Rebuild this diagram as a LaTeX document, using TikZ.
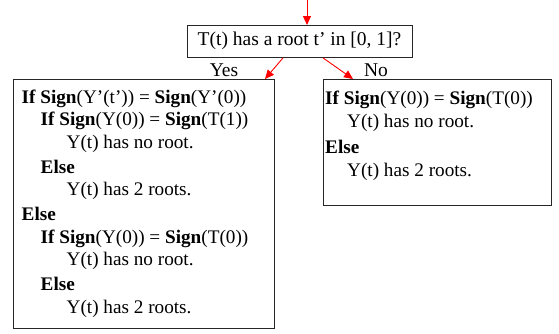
\documentclass[tikz,border=0pt]{standalone}
\usepackage{fontspec}
\setmainfont{Liberation Serif}
\usetikzlibrary{arrows.meta}
\begin{document}
\begin{tikzpicture}[x=1pt,y=-1pt,
  frame/.style={draw=black!85, line width=0.9pt, inner sep=0pt, anchor=north west},
  body/.style={anchor=north west, align=left, inner sep=0pt,
    font=\fontsize{19.2}{22.5}\selectfont},
  tag/.style={font=\fontsize{19.5}{23}\selectfont, inner sep=0pt},
  flow/.style={draw=red, line width=0.9pt, -{Triangle[length=9pt,width=8pt]}}]
\useasboundingbox (0,0) rectangle (559,333);
\fill[white] (0,0) rectangle (559,333);

% question box
\node[frame, minimum width=225pt, minimum height=32pt] (q) at (187,25) {};
\node[tag] (qtext) at (299.5,41) {T(t) has a root t’ in [0, 1]?};
\coordinate (top) at (307,0);
\draw[flow] (top) -- (top |- q.north);

% answer boxes
\node[frame, minimum width=261pt, minimum height=249pt] (yesbox) at (13,79) {};
\node[frame, minimum width=228pt, minimum height=126pt] (nobox) at (323,79) {};

\node[body] (yestext) at (21.5,89.5) {%
\textbf{If Sign}(Y’(t’)) = \textbf{Sign}(Y’(0))\\
\hspace*{19pt}\textbf{If Sign}(Y(0)) = \textbf{Sign}(T(1))\\
\hspace*{45pt}Y(t) has no root.\\[2.5pt]
\hspace*{19pt}\textbf{Else}\\
\hspace*{45pt}Y(t) has 2 roots.\\[2.5pt]
\textbf{Else}\\
\hspace*{19pt}\textbf{If Sign}(Y(0)) = \textbf{Sign}(T(0))\\
\hspace*{45pt}Y(t) has no root.\\[2.5pt]
\hspace*{19pt}\textbf{Else}\\
\hspace*{45pt}Y(t) has 2 roots.};

\node[body] (notext) at (325,91) {%
\textbf{If Sign}(Y(0)) = \textbf{Sign}(T(0))\\
\hspace*{22pt}Y(t) has no root.\\[3.5pt]
\textbf{Else}\\[0.5pt]
\hspace*{22pt}Y(t) has 2 roots.};

% branches
\coordinate (yesend) at (265,79);
\coordinate (noend) at (353,79);
\draw[flow] (q.south -| 283,0) -- (yesend);
\draw[flow] (q.south -| 323,0) -- (noend);
\node[tag] (yes) at (224,70) {Yes};
\node[tag] (no) at (376,70) {No};
\end{tikzpicture}
\end{document}
